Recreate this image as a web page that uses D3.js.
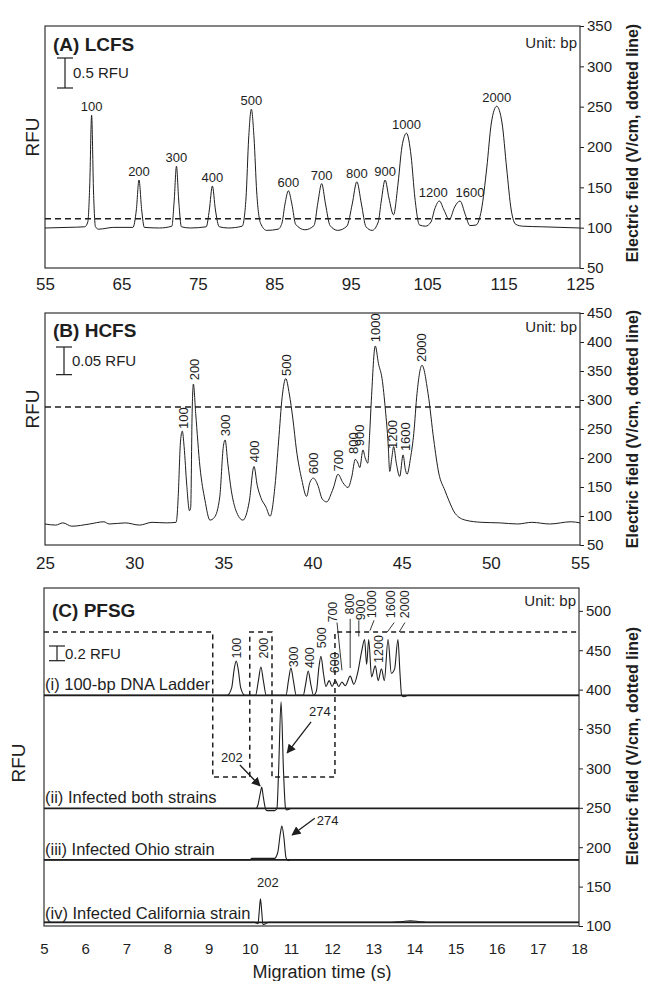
<!DOCTYPE html>
<html>
<head>
<meta charset="utf-8">
<script src="https://d3js.org/d3.v7.min.js"></script>
<style>
  body { margin: 0; background: #fff; }
  svg { display: block; font-family: "Liberation Sans", Arial, sans-serif; }
</style>
</head>
<body>
<svg id="chart" width="645" height="981"></svg>
<script>
// ---------- (A) LCFS ----------
var aTime = [55, 58, 60.2, 60.6, 60.85, 61.1, 61.35, 61.6, 62, 64, 66.5, 66.95, 67.3, 67.65, 68.0, 70, 71.6, 71.9, 72.2, 72.5, 72.85,
  74, 76.1, 76.5, 76.9, 77.3, 77.8, 79, 80.8, 81.3, 81.65, 82.0, 82.35, 82.7, 83.2, 84.0, 85.5, 86.0, 86.4, 86.85, 87.3, 87.8,
  89, 90.2, 90.7, 91.2, 91.7, 92.3, 93.3, 94.5, 95.2, 95.8, 96.4, 97.0, 97.8, 98.6, 99.0, 99.5, 100.0, 100.6, 101.2, 101.7,
  102.3, 102.9, 103.4, 104.0, 104.8, 105.5, 106.0, 106.6, 107.2, 107.9, 108.6, 109.3, 110.0, 110.6, 111.4, 112.1, 112.8,
  113.4, 114.1, 114.8, 115.4, 116.0, 116.6, 117.5, 120, 125]
var aRfu = [0, 0.01, 0.02, 0.1, 0.7, 1.88, 0.6, 0.02, -0.02, 0.01, 0.01, 0.3, 0.8, 0.3, 0.01, 0, 0.03, 0.45, 1.03, 0.45, 0.02,
  0, 0.02, 0.3, 0.7, 0.3, 0.02, 0, 0.03, 0.5, 1.5, 1.98, 1.5, 0.6, 0.08, -0.04, -0.02, 0.08, 0.4, 0.62, 0.4, 0.06,
  -0.03, 0.04, 0.42, 0.74, 0.4, 0.04, -0.04, 0.03, 0.4, 0.77, 0.4, 0.02, -0.04, 0.1, 0.45, 0.8, 0.5, 0.22, 0.75, 1.35,
  1.58, 1.2, 0.5, 0.05, 0.03, 0.1, 0.32, 0.45, 0.3, 0.14, 0.35, 0.45, 0.22, 0.04, 0.05, 0.3, 1.0,
  1.75, 2.03, 1.75, 1.0, 0.3, 0.06, 0.03, 0.02, 0]
var aLabels = ["100", "200", "300", "400", "500", "600", "700", "800", "900", "1000", "1200", "1600", "2000"]
var aLabelTime = [61.1, 67.3, 72.2, 76.9, 82.0, 86.85, 91.2, 95.8, 99.5, 102.3, 105.8, 110.6, 114.1]
var aLabelTop = [1.88, 0.8, 1.03, 0.7, 1.98, 0.62, 0.74, 0.77, 0.8, 1.58, 0.45, 0.45, 2.03]
var aTicks = [55, 65, 75, 85, 95, 105, 115, 125]
var aFieldTicks = [50, 100, 150, 200, 250, 300, 350]
var aField = 111

// ---------- (B) HCFS ----------
var bTime = [25, 25.6, 26, 26.5, 27.5, 28.3, 28.6, 29.5, 30.3, 31, 31.8, 32.35, 32.42, 32.47, 32.6, 32.7, 32.8, 32.95, 33.1,
  33.17, 33.25, 33.32, 33.45, 33.69, 33.97, 34.25, 34.5, 34.8, 35.0, 35.1, 35.25, 35.45, 35.7, 36.1, 36.45, 36.72, 36.9,
  37.1, 37.4, 37.62, 37.9, 38.1, 38.3, 38.5, 38.7, 38.9, 39.1, 39.4, 39.67, 39.85, 40.05, 40.3, 40.55, 40.8, 41.05, 41.19,
  41.43, 41.7, 41.99, 42.2, 42.4, 42.55, 42.65, 42.83, 42.95, 43.1, 43.2, 43.3, 43.52, 43.7, 43.9, 44.09, 44.24, 44.33,
  44.45, 44.55, 44.7, 44.89, 45.08, 45.2, 45.3, 45.5, 45.68, 45.86, 46.14, 46.48, 46.8, 47.08, 47.42, 47.64, 48.0, 48.57,
  49.5, 50.5, 51.5, 52.3, 53.3, 54.5, 55]
var bRfu = [0, -0.002, 0.002, -0.004, 0, 0.004, 0, 0.002, -0.002, 0.003, 0.002, 0.003, 0.02, 0.05, 0.15, 0.168, 0.14, 0.07, 0.024,
  0.03, 0.2, 0.253, 0.2, 0.103, 0.043, 0.007, 0.012, 0.049, 0.14, 0.152, 0.11, 0.06, 0.025, 0.007, 0.04, 0.104, 0.07,
  0.048, 0.03, 0.014, 0.07, 0.15, 0.23, 0.263, 0.235, 0.19, 0.134, 0.08, 0.05, 0.075, 0.083, 0.07, 0.045, 0.04, 0.055, 0.067,
  0.09, 0.075, 0.066, 0.085, 0.117, 0.11, 0.102, 0.134, 0.12, 0.11, 0.16, 0.224, 0.322, 0.29, 0.263, 0.206, 0.146, 0.095,
  0.12, 0.14, 0.11, 0.086, 0.125, 0.1, 0.09, 0.12, 0.164, 0.236, 0.287, 0.236, 0.152, 0.092, 0.061, 0.043, 0.019, 0.007,
  0.003, 0.002, 0, 0.003, 0, 0.004, 0.002]
var bLabels = ["100", "200", "300", "400", "500", "600", "700", "800", "900", "1000", "1200", "1600", "2000"]
var bLabelTime = [32.74, 33.36, 35.1, 36.72, 38.56, 40.05, 41.43, 42.3, 42.65, 43.52, 44.46, 45.2, 46.09]
var bLabelRfu = [0.17, 0.258, 0.157, 0.11, 0.266, 0.088, 0.093, 0.125, 0.139, 0.327, 0.134, 0.13, 0.291]
var bTicks = [25, 30, 35, 40, 45, 50, 55]
var bFieldTicks = [50, 100, 150, 200, 250, 300, 350, 400, 450]
var bField = 288

// ---------- (C) PFSG ----------
var ladderTime = [5, 9.45, 9.56, 9.62, 9.67, 9.72, 9.78, 9.88, 10.14, 10.21, 10.27, 10.33, 10.4, 10.88, 10.94, 11.0, 11.06, 11.13,
  11.3, 11.36, 11.42, 11.48, 11.55, 11.62, 11.68, 11.73, 11.79, 11.85, 11.93, 12.0, 12.08, 12.16, 12.24, 12.32, 12.44, 12.53,
  12.62, 12.72, 12.79, 12.84, 12.89, 12.96, 13.05, 13.12, 13.2, 13.27, 13.36, 13.44, 13.52, 13.6, 13.65, 13.69, 13.75, 13.85, 18]
var ladderRfu = [0, 0, 0.1, 0.35, 0.467, 0.35, 0.1, 0, 0, 0.2, 0.385, 0.2, 0, 0, 0.2, 0.37, 0.2, 0,
  0, 0.16, 0.33, 0.16, 0, 0.06, 0.38, 0.53, 0.3, 0.12, 0.2, 0.12, 0.2, 0.12, 0.18, 0.13, 0.26, 0.15,
  0.3, 0.6, 0.76, 0.42, 0.76, 0.25, 0.4, 0.2, 0.36, 0.2, 0.76, 0.3, 0.36, 0.76, 0.3, 0, -0.02, 0, 0]
var bothTime = [5, 10.15, 10.2, 10.26, 10.29, 10.33, 10.38, 10.42, 10.6, 10.66, 10.7, 10.76, 10.82, 10.87, 10.9, 11.0, 18]
var bothRfu = [0, 0, 0.05, 0.22, 0.29, 0.15, 0, -0.03, -0.03, 0, 0.5, 1.45, 0.5, 0, -0.02, 0, 0]
var ohioTime = [5, 10.0, 10.05, 10.6, 10.68, 10.74, 10.78, 10.83, 10.88, 10.93, 11.0, 18]
var ohioRfu = [0, 0, 0.02, 0.02, 0.1, 0.35, 0.46, 0.3, 0.03, -0.01, 0, 0]
var caliTime = [5, 10.12, 10.2, 10.23, 10.26, 10.29, 10.32, 10.38, 10.45, 13.45, 13.7, 13.9, 14.1, 14.3, 18]
var caliRfu = [0, 0, -0.02, 0.15, 0.32, 0.15, -0.03, -0.02, 0, 0, 0.012, 0.02, 0.012, 0, 0]
var cTraceNames = ["(i) 100-bp DNA Ladder", "(ii) Infected both strains", "(iii) Infected Ohio strain", "(iv) Infected California strain"]
var cBaseline = [3.14, 1.6, 0.9, 0.05]
var ladderLabels = ["100", "200", "300", "400", "500", "600", "700", "800", "900", "1000", "1200", "1600", "2000"]
var ladderLabelTime = [9.67, 10.33, 11.06, 11.46, 11.75, 12.07, 12.02, 12.42, 12.7, 12.97, 13.12, 13.41, 13.75]
var ladderLabelRfu = [0.5, 0.5, 0.38, 0.37, 0.64, 0.3, 0.99, 1.1, 1.02, 1.05, 0.44, 1.05, 1.05]
var leaderFrom = [[12.12, 0.99], [12.44, 1.04], [12.65, 1.02], [13.02, 1.02], [13.51, 0.99], [13.77, 0.99]]
var leaderTo = [[12.24, 0.34], [12.44, 0.37], [12.65, 0.8], [12.92, 0.88], [13.34, 0.86], [13.63, 0.86]]
var cFieldTime = [5, 9.1, 9.1, 10.0, 10.0, 10.54, 10.54, 12.07, 12.07, 18]
var cFieldValue = [473, 473, 289, 289, 473, 473, 289, 289, 473, 473]
var sizeText = ["202", "274", "274", "202"]
var sizeTextAt = [[9.3, 308], [11.44, 366], [11.63, 228], [10.44, 149.5]]
var arrowFrom = [[9.76, 304.4], [11.49, 359], [11.58, 236.8]]
var arrowTo = [[10.25, 277.8], [10.91, 319.7], [11.03, 215.6]]
var cTicks = [5, 6, 7, 8, 9, 10, 11, 12, 13, 14, 15, 16, 17, 18]
var cFieldTicks = [100, 150, 200, 250, 300, 350, 400, 450, 500]

var ink = "#1e1e1e"
var svg = d3.select("#chart")

svg.append("defs").append("marker")
  .attr("id", "arrow")
  .attr("viewBox", "0 0 10 10")
  .attr("refX", 9).attr("refY", 5)
  .attr("markerWidth", 7).attr("markerHeight", 7)
  .attr("orient", "auto")
  .append("path").attr("d", "M0,0 L10,5 L0,10 z").attr("fill", ink)

// frame, axes, titles shared by the three panels
function drawPanel(p) {
  var g = svg.append("g")
  var x0 = p.x.range()[0], x1 = p.x.range()[1]
  var yb = p.field.range()[0], yt = p.field.range()[1]

  var xa = g.append("g")
    .attr("transform", "translate(0," + yb + ")")
    .call(d3.axisBottom(p.x).tickValues(p.xTicks).tickSize(0).tickPadding(p.xPad).tickFormat(d3.format("d")))
  xa.select(".domain").remove()
  xa.attr("font-family", null).attr("font-size", p.xFont)
  xa.selectAll("text").attr("fill", ink)

  var ra = g.append("g")
    .attr("transform", "translate(" + x1 + ",0)")
    .call(d3.axisRight(p.field).tickValues(p.fieldTicks).tickSize(4).tickPadding(3))
  ra.select(".domain").remove()
  ra.attr("font-family", null).attr("font-size", 15)
  ra.selectAll("line").attr("stroke", ink)
  ra.selectAll("text").attr("fill", ink)

  g.append("rect")
    .attr("x", x0).attr("y", yt)
    .attr("width", x1 - x0).attr("height", yb - yt)
    .attr("fill", "none").attr("stroke", "#333").attr("stroke-width", 1.2)

  g.append("text").attr("x", x0 + 8).attr("y", p.titleY)
    .attr("font-weight", "bold").attr("font-size", 19).attr("fill", ink).text(p.title)
  g.append("text").attr("x", x1 - 3).attr("y", p.unitY)
    .attr("text-anchor", "end").attr("font-size", 15).attr("fill", ink).text("Unit: bp")

  g.append("text")
    .attr("transform", "translate(" + p.rfuX + "," + p.rfuY + ") rotate(-90)")
    .attr("text-anchor", "middle").attr("dy", "0.35em")
    .attr("font-size", 19).attr("fill", ink).text("RFU")

  // right axis title, kept inside the 645px page
  g.append("text")
    .attr("transform", "translate(633," + p.efY + ") rotate(-90)")
    .attr("text-anchor", "middle").attr("dy", "0.3em")
    .attr("font-size", 16).attr("font-weight", "bold").attr("fill", ink)
    .text("Electric field (V/cm, dotted line)")

  // RFU scale bar
  var len = p.rfu(0) - p.rfu(p.barRfu)
  var bar = g.append("g").attr("stroke", ink).attr("stroke-width", 1.2)
  bar.append("line").attr("x1", p.barX).attr("x2", p.barX).attr("y1", p.barTop).attr("y2", p.barTop + len)
  bar.append("line").attr("x1", p.barX - 8).attr("x2", p.barX + 8).attr("y1", p.barTop).attr("y2", p.barTop)
  bar.append("line").attr("x1", p.barX - 8).attr("x2", p.barX + 8).attr("y1", p.barTop + len).attr("y2", p.barTop + len)
  g.append("text").attr("x", p.barX + 8).attr("y", p.barTop + len / 2).attr("dy", "0.35em")
    .attr("font-size", 15).attr("fill", ink).text(p.barRfu + " RFU")
  return g
}

function trace(g, x, y, times, vals, width) {
  g.append("path")
    .datum(d3.zip(times, vals))
    .attr("fill", "none").attr("stroke", ink).attr("stroke-width", width || 1)
    .attr("stroke-linejoin", "round")
    .attr("d", d3.line().x(d => x(d[0])).y(d => y(d[1])).curve(d3.curveMonotoneX))
}

// ---------- panel A ----------
var xA = d3.scaleLinear().domain([55, 125]).range([45, 580])
var eA = d3.scaleLinear().domain([50, 350]).range([268, 26])
var rA = d3.scaleLinear().domain([-0.667, 3.367]).range([268, 26])
var gA = drawPanel({x: xA, field: eA, rfu: rA, xTicks: aTicks, fieldTicks: aFieldTicks, xPad: 10, xFont: 17,
  title: "(A) LCFS", titleY: 51, unitY: 48, rfuX: 32, rfuY: 137, efY: 143,
  barX: 65, barTop: 58, barRfu: 0.5})
gA.append("line").attr("x1", xA(55)).attr("x2", xA(125)).attr("y1", eA(aField)).attr("y2", eA(aField))
  .attr("stroke", ink).attr("stroke-width", 1.6).attr("stroke-dasharray", "6,4")
trace(gA, xA, rA, aTime, aRfu)
gA.selectAll(".plabel").data(aLabels).join("text")
  .attr("x", (d, i) => xA(aLabelTime[i]))
  .attr("y", (d, i) => rA(aLabelTop[i]) - 4)
  .attr("text-anchor", "middle").attr("font-size", 13).attr("fill", ink)
  .text(d => d)

// ---------- panel B ----------
var xB = d3.scaleLinear().domain([25, 55]).range([45, 580])
var eB = d3.scaleLinear().domain([50, 450]).range([545, 313])
var rB = d3.scaleLinear().domain([-0.038, 0.3816]).range([545, 313])
var gB = drawPanel({x: xB, field: eB, rfu: rB, xTicks: bTicks, fieldTicks: bFieldTicks, xPad: 12, xFont: 17,
  title: "(B) HCFS", titleY: 337, unitY: 332, rfuX: 32, rfuY: 409, efY: 429,
  barX: 64, barTop: 347, barRfu: 0.05})
gB.append("line").attr("x1", xB(25)).attr("x2", xB(55)).attr("y1", eB(bField)).attr("y2", eB(bField))
  .attr("stroke", ink).attr("stroke-width", 1.6).attr("stroke-dasharray", "6,4")
trace(gB, xB, rB, bTime, bRfu)
gB.selectAll(".plabel").data(bLabels).join("text")
  .attr("transform", (d, i) => "translate(" + (xB(bLabelTime[i]) + 4.5) + "," + (rB(bLabelRfu[i]) - 1) + ") rotate(-90)")
  .attr("font-size", 13).attr("fill", ink)
  .text(d => d)

// ---------- panel C ----------
var xC = d3.scaleLinear().domain([5, 18]).range([44, 579])
var eC = d3.scaleLinear().domain([100, 529]).range([926, 588])
var rC = d3.scaleLinear().domain([0, 4.6]).range([926, 588])
var gC = drawPanel({x: xC, field: eC, rfu: rC, xTicks: cTicks, fieldTicks: cFieldTicks, xPad: 17, xFont: 15,
  title: "(C) PFSG", titleY: 617, unitY: 606, rfuX: 18, rfuY: 763, efY: 746,
  barX: 57, barTop: 646, barRfu: 0.2})

gC.append("path")
  .datum(d3.zip(cFieldTime, cFieldValue))
  .attr("fill", "none").attr("stroke", ink).attr("stroke-width", 1.5).attr("stroke-dasharray", "5,4")
  .attr("d", d3.line().x(d => xC(d[0])).y(d => eC(d[1])))

var cSeries = [[ladderTime, ladderRfu], [bothTime, bothRfu], [ohioTime, ohioRfu], [caliTime, caliRfu]]
cSeries.forEach(function(s, k) {
  var base = cBaseline[k]
  var yk = d3.scaleLinear().domain([0, 1]).range([rC(base), rC(base + 1)])
  gC.append("line").attr("x1", xC(5)).attr("x2", xC(18)).attr("y1", yk(0)).attr("y2", yk(0))
    .attr("stroke", ink).attr("stroke-width", 1.8)
  trace(gC, xC, yk, s[0], s[1], 1.1)
  gC.append("text").attr("x", xC(5) + 1).attr("y", yk(0) - (k == 3 ? 3 : 5))
    .attr("font-size", 16.5).attr("fill", ink).text(cTraceNames[k])
})

var yLadder = d3.scaleLinear().domain([0, 1]).range([rC(cBaseline[0]), rC(cBaseline[0] + 1)])
gC.selectAll(".llabel").data(ladderLabels).join("text")
  .attr("transform", (d, i) => "translate(" + (xC(ladderLabelTime[i]) + 4.5) + "," + yLadder(ladderLabelRfu[i]) + ") rotate(-90)")
  .attr("font-size", 12.5).attr("fill", ink)
  .text(d => d)
gC.selectAll(".leader").data(leaderFrom).join("line")
  .attr("x1", d => xC(d[0])).attr("y1", d => yLadder(d[1]))
  .attr("x2", (d, i) => xC(leaderTo[i][0])).attr("y2", (d, i) => yLadder(leaderTo[i][1]))
  .attr("stroke", ink).attr("stroke-width", 0.9)

gC.selectAll(".arrow").data(arrowFrom).join("line")
  .attr("x1", d => xC(d[0])).attr("y1", d => eC(d[1]))
  .attr("x2", (d, i) => xC(arrowTo[i][0])).attr("y2", (d, i) => eC(arrowTo[i][1]))
  .attr("stroke", ink).attr("stroke-width", 1.3).attr("marker-end", "url(#arrow)")
gC.selectAll(".size").data(sizeText).join("text")
  .attr("x", (d, i) => xC(sizeTextAt[i][0]))
  .attr("y", (d, i) => eC(sizeTextAt[i][1]))
  .attr("text-anchor", (d, i) => i == 3 ? "middle" : "start")
  .attr("font-size", 13).attr("fill", ink)
  .text(d => d)

svg.append("text").attr("x", 322).attr("y", 978)
  .attr("text-anchor", "middle").attr("font-size", 18).attr("fill", ink)
  .text("Migration time (s)")
</script>
</body>
</html>
